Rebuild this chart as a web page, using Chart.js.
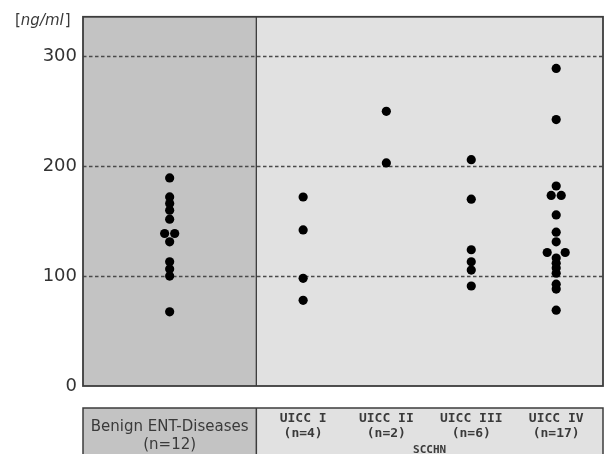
<!DOCTYPE html>
<html>
<head>
<meta charset="utf-8">
<script src="https://cdn.jsdelivr.net/npm/chart.js@4.4.1/dist/chart.umd.min.js"></script>
<style>
  html, body { margin: 0; padding: 0; background: #fff; }
  #wrap { width: 604px; height: 454px; }
</style>
</head>
<body>
<div id="wrap"><canvas id="c" width="604" height="454"></canvas></div>
<script>
// ---- Data ----
const groupLabels = [
  ["Benign ENT-Diseases", "(n=12)"],
  ["UICC I", "(n=4)"],
  ["UICC II", "(n=2)"],
  ["UICC III", "(n=6)"],
  ["UICC IV", "(n=17)"]
];
const superGroupLabel = "SCCHN";
const yAxisTitle = ["[", "ng/ml", "]"];
const yTickValues = [0, 100, 200, 300];
const gridValues = [100, 200, 300];

// category centre positions on the x axis (benign spans 0..2, SCCHN groups 2..6)
const groupPositions = [1, 2.54, 3.5, 4.48, 5.46];
const regionBoundary = 2;

const benignValues  = [189.4, 172.1, 166.1, 160, 151.8, 138.8, 138.8, 131.2, 113, 106.4, 100, 67.5];
const benignOffsets = [0, 0, 0, 0, 0, -0.058, 0.058, 0, 0, 0, 0, 0];

const uicc1Values  = [172, 142, 98, 78];
const uicc1Offsets = [0, 0, 0, 0];

const uicc2Values  = [250, 203];
const uicc2Offsets = [0, 0];

const uicc3Values  = [206, 170, 124, 113, 105.5, 91];
const uicc3Offsets = [0, 0, 0, 0, 0, 0];

const uicc4Values  = [289, 242.5, 182, 173.4, 173.4, 155.7, 140, 131.2, 121.5, 121.5, 116.4, 111.8, 107.3, 102.7, 92.7, 88.2, 69];
const uicc4Offsets = [0, 0, 0, -0.058, 0.058, 0, 0, 0, -0.104, 0.104, 0, 0, 0, 0, 0, 0, 0];

const groupValues  = [benignValues, uicc1Values, uicc2Values, uicc3Values, uicc4Values];
const groupOffsets = [benignOffsets, uicc1Offsets, uicc2Offsets, uicc3Offsets, uicc4Offsets];

// ---- Build datasets ----
const datasets = groupValues.map((vals, g) => ({
  label: groupLabels[g].join(' '),
  data: vals.map((v, i) => ({ x: groupPositions[g] + groupOffsets[g][i], y: v })),
  backgroundColor: '#000',
  borderWidth: 0,
  pointRadius: 4.6,
  pointHoverRadius: 4.6
}));

const BENIGN_BG = '#c3c3c3';
const SCCHN_BG = '#e1e1e1';
const LINE = '#3c3c3c';
const TEXT = '#3a3a3a';

const decor = {
  id: 'decor',
  beforeDraw(chart) {
    const ctx = chart.ctx;
    const { left, right, top, bottom } = chart.chartArea;
    const xs = chart.scales.x;
    const divX = xs.getPixelForValue(regionBoundary);
    ctx.save();
    ctx.fillStyle = '#fff';
    ctx.fillRect(0, 0, chart.width, chart.height);
    ctx.fillStyle = BENIGN_BG;
    ctx.fillRect(left, top, divX - left, bottom - top);
    ctx.fillStyle = SCCHN_BG;
    ctx.fillRect(divX, top, right - divX, bottom - top);
    // table below
    const tTop = 408;
    ctx.fillStyle = BENIGN_BG;
    ctx.fillRect(left, tTop, divX - left, chart.height - tTop + 5);
    ctx.fillStyle = SCCHN_BG;
    ctx.fillRect(divX, tTop, right - divX, chart.height - tTop + 5);
    ctx.restore();
  },
  beforeDatasetsDraw(chart) {
    const ctx = chart.ctx;
    const { left, right } = chart.chartArea;
    const ys = chart.scales.y;
    ctx.save();
    ctx.strokeStyle = '#4a4a4a';
    ctx.lineWidth = 1.5;
    ctx.setLineDash([3.5, 2.5]);
    gridValues.forEach(v => {
      const y = Math.round(ys.getPixelForValue(v)) + 0.5;
      ctx.beginPath();
      ctx.moveTo(left, y);
      ctx.lineTo(right, y);
      ctx.stroke();
    });
    ctx.restore();
  },
  afterDraw(chart) {
    const ctx = chart.ctx;
    const { left, right, top, bottom } = chart.chartArea;
    const xs = chart.scales.x;
    const divX = xs.getPixelForValue(regionBoundary);
    ctx.save();
    // plot frame
    ctx.strokeStyle = LINE;
    ctx.lineWidth = 1.8;
    ctx.strokeRect(left, top, right - left, bottom - top);
    ctx.lineWidth = 1.3;
    ctx.beginPath();
    ctx.moveTo(divX, top);
    ctx.lineTo(divX, bottom);
    ctx.stroke();
    // table frame
    const tTop = 408;
    ctx.lineWidth = 1.5;
    ctx.strokeRect(left, tTop, right - left, chart.height - tTop + 10);
    ctx.beginPath();
    ctx.moveTo(divX, tTop);
    ctx.lineTo(divX, chart.height);
    ctx.stroke();

    // table text
    ctx.fillStyle = TEXT;
    ctx.textAlign = 'center';
    ctx.textBaseline = 'middle';
    const bx = xs.getPixelForValue(groupPositions[0]);
    ctx.font = '15px "DejaVu Sans", Verdana, sans-serif';
    ctx.fillText(groupLabels[0][0], bx, 427);
    ctx.fillText(groupLabels[0][1], bx, 445);
    ctx.font = 'bold 13px "DejaVu Sans Mono", monospace';
    for (let g = 1; g < groupLabels.length; g++) {
      const gx = xs.getPixelForValue(groupPositions[g]);
      ctx.fillText(groupLabels[g][0], gx, 419);
      ctx.fillText(groupLabels[g][1], gx, 434);
    }
    ctx.font = 'bold 11px "DejaVu Sans Mono", monospace';
    ctx.fillText(superGroupLabel, (divX + right) / 2, 450);

    // y axis title
    ctx.textAlign = 'left';
    let x = 15;
    const ty = 21;
    ctx.font = '15px "DejaVu Sans", sans-serif';
    ctx.fillText(yAxisTitle[0], x, ty);
    x += ctx.measureText(yAxisTitle[0]).width;
    ctx.font = 'italic 15px "DejaVu Sans", sans-serif';
    ctx.fillText(yAxisTitle[1], x, ty);
    x += ctx.measureText(yAxisTitle[1]).width + 1;
    ctx.font = '15px "DejaVu Sans", sans-serif';
    ctx.fillText(yAxisTitle[2], x, ty);
    ctx.restore();
  }
};

new Chart(document.getElementById('c'), {
  type: 'scatter',
  data: { datasets },
  options: {
    responsive: false,
    animation: false,
    events: [],
    layout: { autoPadding: false, padding: { top: 16, right: 1, bottom: 68, left: 0 } },
    plugins: { legend: { display: false }, tooltip: { enabled: false } },
    scales: {
      x: {
        type: 'linear',
        min: 0,
        max: 6,
        display: false
      },
      y: {
        type: 'linear',
        min: 0,
        max: 336,
        afterBuildTicks(scale) { scale.ticks = yTickValues.map(v => ({ value: v })); },
        afterFit(scale) { scale.width = 83; },
        grid: { display: false, drawTicks: false },
        border: { display: false },
        ticks: {
          padding: 6,
          color: '#333',
          font: { family: '"DejaVu Sans", sans-serif', size: 18 }
        }
      }
    }
  },
  plugins: [decor]
});
</script>
</body>
</html>
